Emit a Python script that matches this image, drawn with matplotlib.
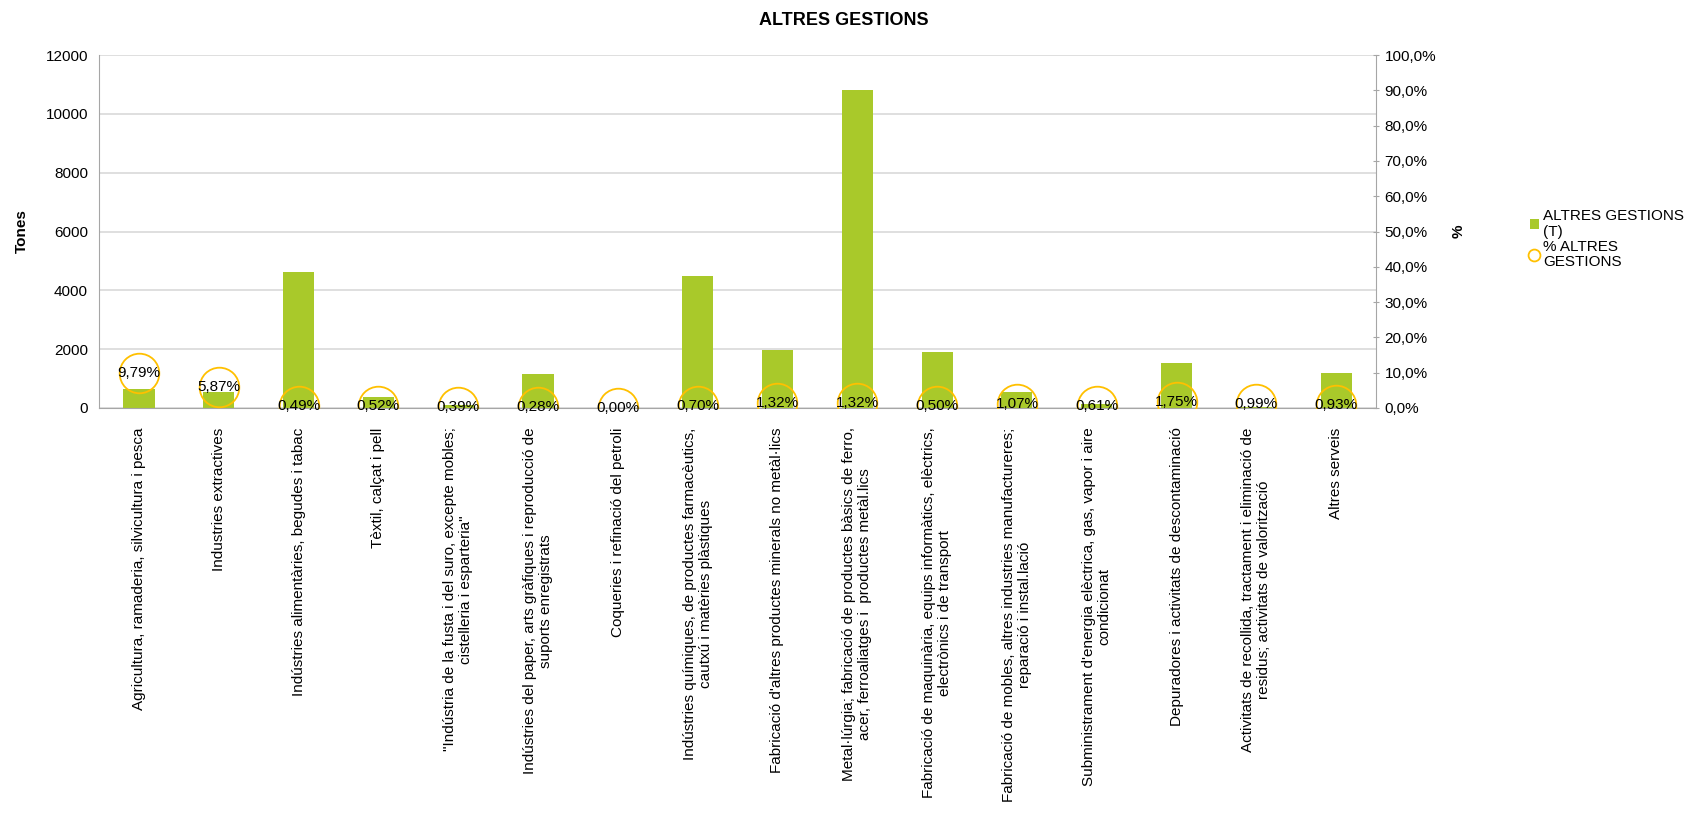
import numpy as np
import matplotlib
matplotlib.use('Agg')
import matplotlib.pyplot as plt

plt.rcParams['font.family'] = ['Liberation Sans', 'DejaVu Sans']

# Data
categories = [
    "Agricultura, ramaderia, silvicultura i pesca",
    "Industries extractives",
    "Indústries alimentàries, begudes i tabac",
    "Tèxtil, calçat i pell",
    "\"Indústria de la fusta i del suro, excepte mobles;\ncistelleria i esparteria\"",
    "Indústries del paper, arts gràfiques i reproducció de\nsuports enregistrats",
    "Coqueries i refinació del petroli",
    "Indústries químiques, de productes farmacèutics,\ncautxú i matèries plàstiques",
    "Fabricació d'altres productes minerals no metàl·lics",
    "Metal·lúrgia; fabricació de productes bàsics de ferro,\nacer, ferroaliatges i  productes metàl.lics",
    "Fabricació de maquinària, equips informàtics, elèctrics,\nelectrònics i de transport",
    "Fabricació de mobles, altres industries manufactureres;\nreparació i instal.lació",
    "Subministrament d'energia elèctrica, gas, vapor i aire\ncondicionat",
    "Depuradores i activitats de descontaminació",
    "Activitats de recollida, tractament i eliminació de\nresidus; activitats de valorització",
    "Altres serveis",
]
tones = [640, 530, 4620, 360, 110, 1170, 0, 4500, 1960, 10810, 1895, 550, 135, 1545, 30, 1205]
pct = [9.79, 5.87, 0.49, 0.52, 0.39, 0.28, 0.00, 0.70, 1.32, 1.32, 0.50, 1.07, 0.61, 1.75, 0.99, 0.93]

bar_color = '#A9C92A'
circle_color = '#FFC000'

fig = plt.figure(figsize=(16.88, 8.14), dpi=100)
ax = fig.add_axes([0.0587, 0.4988, 0.7565, 0.4336])
x = np.arange(len(categories))

bars = ax.bar(x, tones, width=0.39, color=bar_color, label='ALTRES GESTIONS\n(T)', zorder=2)
ax.set_ylim(0, 12000)
ax.set_yticks(np.arange(0, 12001, 2000))
ax.set_xlim(-0.5, len(categories) - 0.5)
ax.grid(axis='y', color='#D9D9D9', linewidth=1.2, zorder=0)
ax.set_axisbelow(True)
ax.tick_params(axis='y', length=0, labelsize=11, pad=8)
ax.tick_params(axis='x', length=0, pad=14)
ax.set_xticks(x)
ax.set_xticklabels(categories, rotation=90, fontsize=11, va='top', ha='center',
                   multialignment='center')
ax.spines['top'].set_visible(False)
ax.spines['left'].set_color('#A6A6A6')
ax.spines['bottom'].set_color('#A6A6A6')
ax.spines['right'].set_visible(False)
ax.set_ylabel('Tones', fontsize=11, fontweight='bold')
ax.yaxis.set_label_coords(-0.055, 0.5)

ax2 = ax.twinx()
ax2.set_ylim(0, 100)
ax2.set_yticks(np.arange(0, 101, 10))
ax2.set_yticklabels([f"{v:.1f}%".replace('.', ',') for v in np.arange(0, 101, 10)])
ax2.tick_params(axis='y', labelsize=11, color='#A6A6A6', length=5, direction='inout')
for s in ['top', 'left', 'bottom']:
    ax2.spines[s].set_visible(False)
ax2.spines['right'].set_color('#A6A6A6')
line, = ax2.plot(x, pct, linestyle='none', marker='o', markersize=28.5,
                 markerfacecolor='none', markeredgecolor=circle_color,
                 markeredgewidth=1.3, label='% ALTRES\nGESTIONS', zorder=3)
for xi, p in zip(x, pct):
    ax2.text(xi, p, f"{p:.2f}%".replace('.', ','), ha='center', va='center',
             fontsize=11, zorder=4)
ax2.set_ylabel('%', fontsize=11, fontweight='bold', rotation=90)
ax2.yaxis.set_label_coords(1.059, 0.5)

fig.suptitle('ALTRES GESTIONS', fontsize=13, fontweight='bold', y=0.985)

leg = fig.legend(handles=[bars, line], loc='upper left', bbox_to_anchor=(0.898, 0.76),
                 frameon=False, fontsize=11, handlelength=0.6, handletextpad=0.3,
                 labelspacing=0.05, markerscale=0.3)
for t in leg.get_texts():
    t.set_linespacing(1.15)

fig.savefig('out.png', dpi=100)
